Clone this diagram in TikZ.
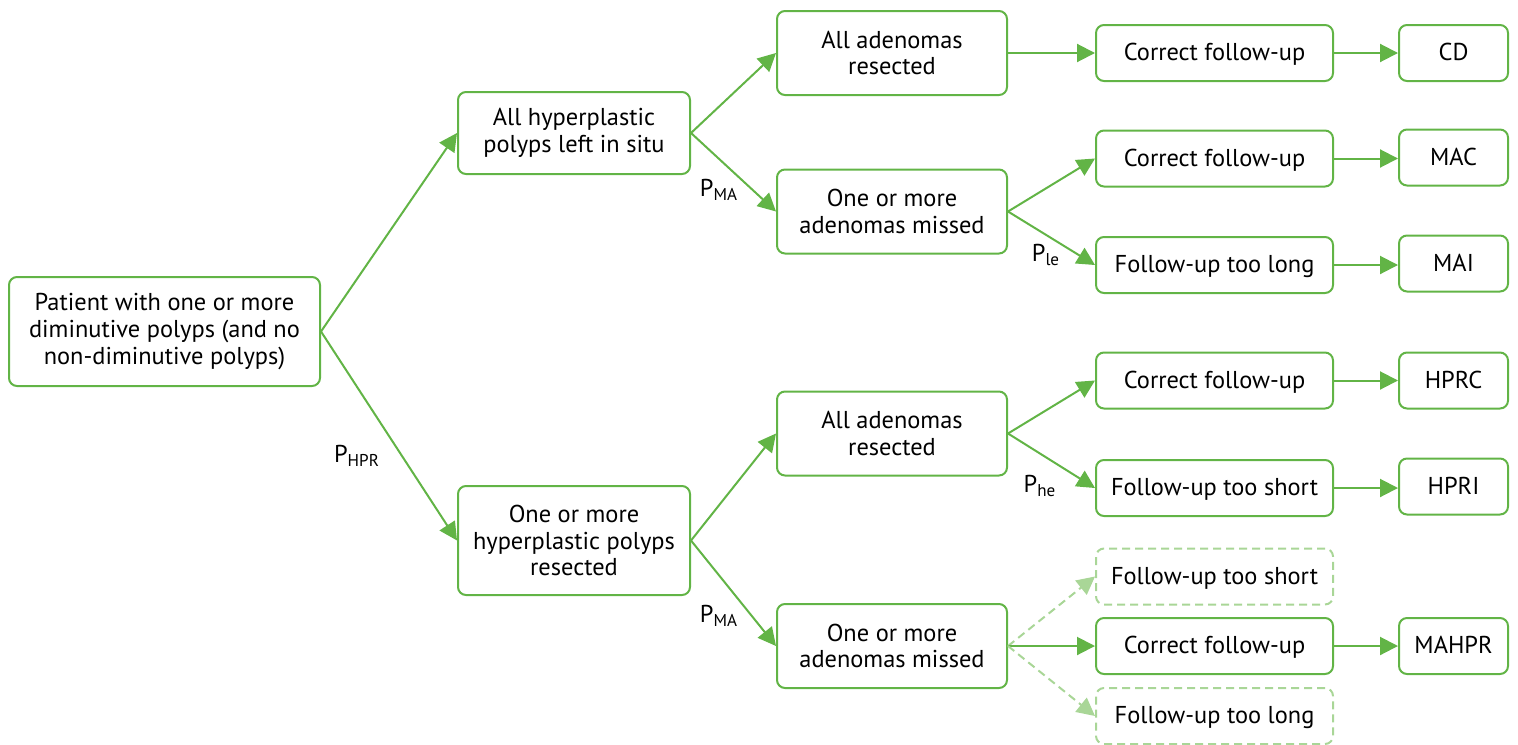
\documentclass[tikz,border=0pt]{standalone}
\usepackage{fontspec}
\setmainfont{PT Sans}
\usetikzlibrary{arrows.meta}
\definecolor{G}{HTML}{62B446}
\definecolor{LG}{HTML}{A9D697}
\begin{document}
\begin{tikzpicture}[x=0.5pt,y=-0.5pt,
  box/.style={draw=G, line width=1pt, rounded corners=4pt, align=center,
    font=\fontsize{12.2}{13.3}\selectfont, inner sep=0pt},
  dbox/.style={box, draw=LG, dashed, dash pattern=on 4pt off 2.5pt},
  wA/.style={minimum width=155.5pt, minimum height=54.5pt},
  wB/.style={minimum width=116pt},
  wC/.style={minimum width=115pt, minimum height=42pt},
  wD/.style={minimum width=118.5pt, minimum height=28pt, text height=8.6pt, text depth=0.8pt},
  wE/.style={minimum width=54.5pt, minimum height=28pt, text height=8.6pt, text depth=0.8pt},
  arr/.style={draw=G, line width=1pt, -{Triangle[length=9pt,width=9pt]}},
  darr/.style={draw=LG, line width=1pt, dash pattern=on 4pt off 2.5pt, -{Triangle[length=9pt,width=9pt]}},
  lab/.style={font=\fontsize{12.2}{13.3}\selectfont, inner sep=0pt}
]
\useasboundingbox (0,0) rectangle (1518,744);

\node[box,wA] (p) at (164.5,331.5) {Patient with one or more\\diminutive polyps (and no\\non-diminutive polyps)};
\node[box,wB,minimum height=41pt] (h1) at (574,133) {All hyperplastic\\polyps left in situ};
\node[box,wB,minimum height=54.5pt] (h2) at (574,540.5) {One or more\\hyperplastic polyps\\resected};

\node[box,wC] (a1) at (892,53) {All adenomas\\resected};
\node[box,wC] (m1) at (892,211.5) {One or more\\adenomas missed};
\node[box,wC] (a2) at (892,433.5) {All adenomas\\resected};
\node[box,wC] (m2) at (892,646) {One or more\\adenomas missed};

\node[box,wD] (f1) at (1214.5,53) {Correct follow-up};
\node[box,wD] (f2) at (1214.5,158.5) {Correct follow-up};
\node[box,wD] (f3) at (1214.5,265) {Follow-up too long};
\node[box,wD] (f4) at (1214.5,380.5) {Correct follow-up};
\node[box,wD] (f5) at (1214.5,488) {Follow-up too short};
\node[dbox,wD] (f6) at (1214.5,576.5) {Follow-up too short};
\node[box,wD] (f7) at (1214.5,646) {Correct follow-up};
\node[dbox,wD] (f8) at (1214.5,716) {Follow-up too long};

\node[box,wE] (e1) at (1453.5,53) {CD};
\node[box,wE] (e2) at (1453.5,157.5) {MAC};
\node[box,wE] (e3) at (1453.5,263.5) {MAI};
\node[box,wE] (e4) at (1453.5,380.5) {HPRC};
\node[box,wE] (e5) at (1453.5,486.5) {HPRI};
\node[box,wE] (e6) at (1453.5,646) {MAHPR};

\draw[arr] (p.east) -- (h1.west);
\draw[arr] (p.east) -- (h2.west);
\draw[arr] (h1.east) -- (a1.west);
\draw[arr] (h1.east) -- (m1.west);
\draw[arr] (h2.east) -- (a2.west);
\draw[arr] (h2.east) -- (m2.west);
\draw[arr] (a1.east) -- (f1.west);
\draw[arr] (m1.east) -- (f2.west);
\draw[arr] (m1.east) -- (f3.west);
\draw[arr] (a2.east) -- (f4.west);
\draw[arr] (a2.east) -- (f5.west);
\draw[darr] (m2.east) -- (f6.west);
\draw[arr] (m2.east) -- (f7.west);
\draw[darr] (m2.east) -- (f8.west);
\draw[arr] (f1) -- (e1);
\draw[arr] (f2.east) -- (e2.west|-f2.east);
\draw[arr] (f3.east) -- (e3.west|-f3.east);
\draw[arr] (f4) -- (e4);
\draw[arr] (f5.east) -- (e5.west|-f5.east);
\draw[arr] (f7) -- (e6);

\node[lab] (l1) at (357,456) {P\textsubscript{HPR}};
\node[lab] (l2) at (719,190) {P\textsubscript{MA}};
\node[lab] (l3) at (719,616) {P\textsubscript{MA}};
\node[lab] (l4) at (1046,255) {P\textsubscript{le}};
\node[lab] (l5) at (1040,486) {P\textsubscript{he}};
\end{tikzpicture}
\end{document}
